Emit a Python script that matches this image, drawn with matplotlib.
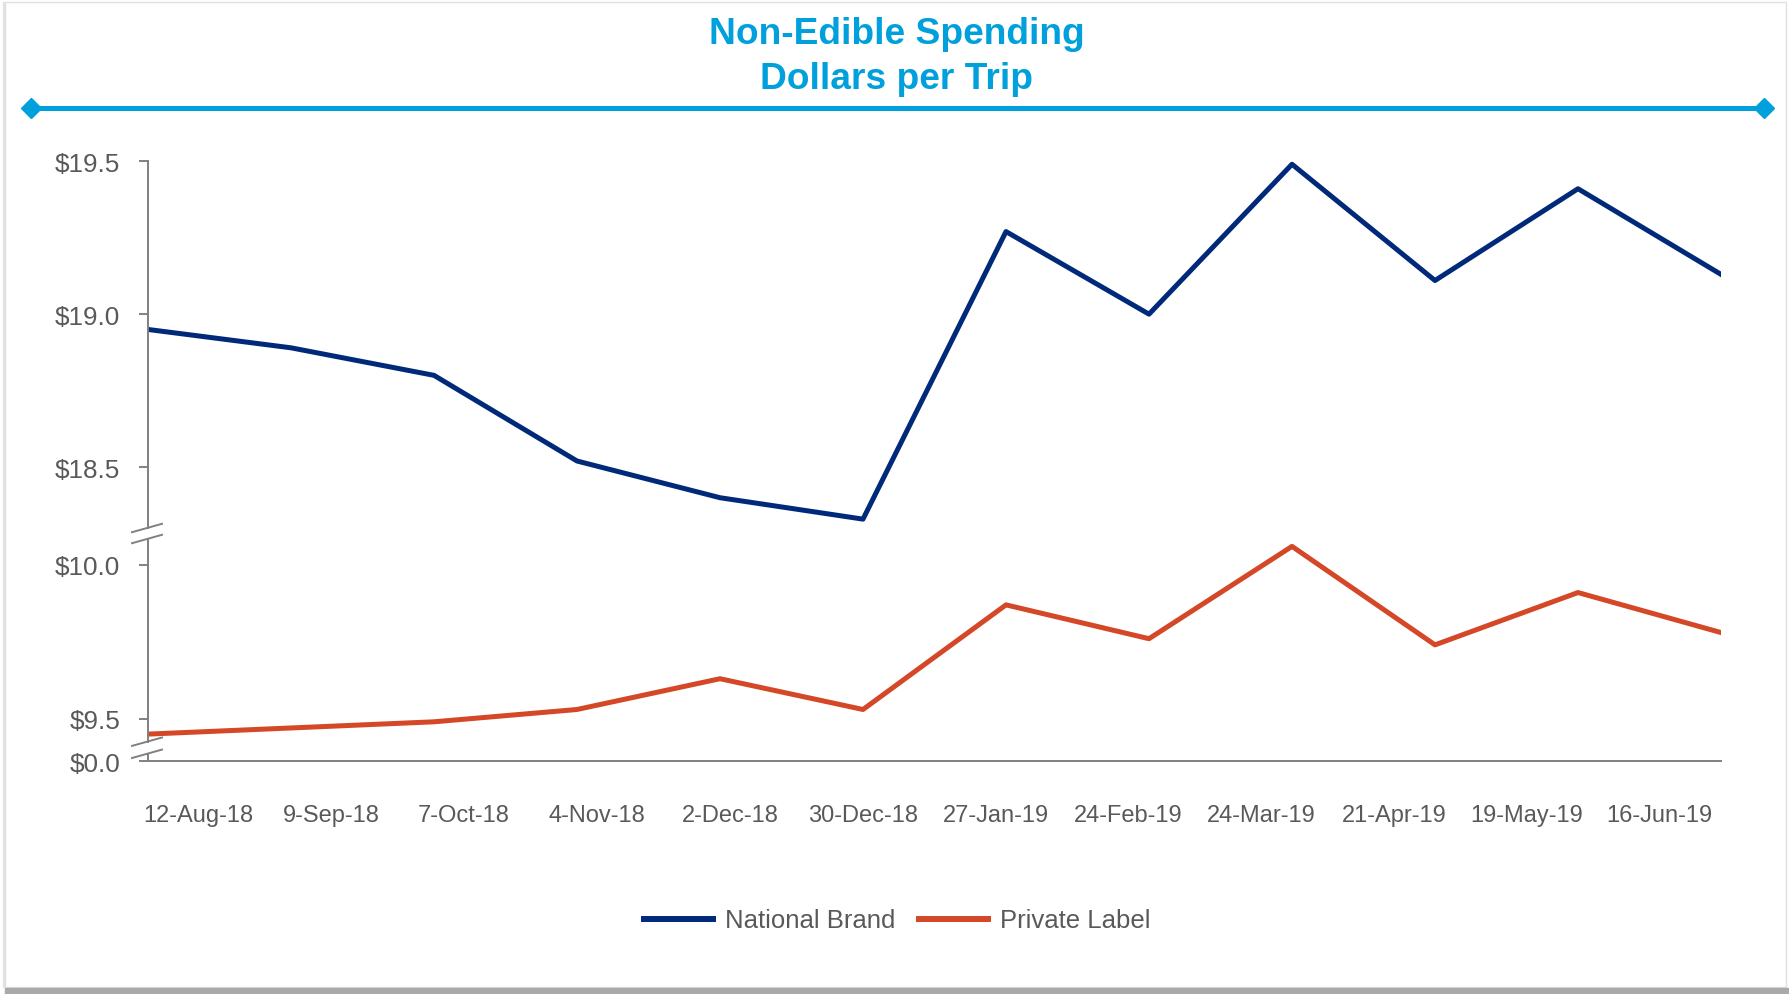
import matplotlib
matplotlib.use('Agg')
import matplotlib.pyplot as plt
from matplotlib.lines import Line2D
from matplotlib.patches import Rectangle
import numpy as np

plt.rcParams['font.family'] = ['Liberation Sans', 'DejaVu Sans']

weeks = ['12-Aug-18', '9-Sep-18', '7-Oct-18', '4-Nov-18', '2-Dec-18', '30-Dec-18',
         '27-Jan-19', '24-Feb-19', '24-Mar-19', '21-Apr-19', '19-May-19', '16-Jun-19']
national_brand = [18.95, 18.89, 18.80, 18.52, 18.40, 18.33,
                  19.27, 19.00, 19.49, 19.11, 19.41, 19.13]
private_label = [9.45, 9.47, 9.49, 9.53, 9.63, 9.53,
                 9.87, 9.76, 10.06, 9.74, 9.91, 9.78]

W, H = 1789, 995
GRAY = '#595959'
AXIS = '#808080'
BLUE = '#00A0DC'
NAVY = '#00297A'
RED = '#D44727'

fig = plt.figure(figsize=(W / 100, H / 100), dpi=100)
fig.patch.set_facecolor('white')


def fx(px):
    return px / W


def fy(py):
    return 1 - py / H


def box(x0, y0, x1, y1):
    return [fx(x0), fy(y1), fx(x1) - fx(x0), fy(y0) - fy(y1)]


# card outline with a soft shadow on the left and bottom
fig.patches.append(Rectangle((fx(3), fy(988)), fx(5) - fx(3), fy(3) - fy(988),
                             transform=fig.transFigure, color='#e3e3e3', zorder=-5))
fig.patches.append(Rectangle((fx(5), fy(988)), fx(1786) - fx(5), fy(3) - fy(988),
                             transform=fig.transFigure, facecolor='white',
                             edgecolor='#e0e0e0', lw=1, zorder=-5))
fig.patches.append(Rectangle((fx(5), fy(995)), fx(1789) - fx(5), fy(988.5) - fy(995),
                             transform=fig.transFigure, color='#a9a9a9', zorder=-5))

# title and rule
fig.text(fx(897), fy(34.5), 'Non-Edible Spending', ha='center', va='center',
         fontsize=26.7, fontweight='bold', color=BLUE)
fig.text(fx(897), fy(79.5), 'Dollars per Trip', ha='center', va='center',
         fontsize=26.7, fontweight='bold', color=BLUE)
fig.add_artist(Line2D([fx(31), fx(1764)], [fy(109), fy(109)], color=BLUE, lw=3.6,
                      marker='D', ms=10, markevery=[0, 1], transform=fig.transFigure))

# three stacked panels make up the broken y axis
left, right = 148, 1721
ax_top = fig.add_axes(box(left, 162.2, right, 529))
ax_mid = fig.add_axes(box(left, 540, right, 742.5))
ax_bot = fig.add_axes(box(left, 754.5, right, 762.2))

x = np.arange(len(weeks))
ax_top.plot(x, national_brand, color=NAVY, lw=3.6, label='National Brand')
ax_mid.plot(x, private_label, color=RED, lw=3.6, label='Private Label')

ax_top.set_ylim(18.301, 19.5)
ax_mid.set_ylim(9.426, 10.084)
ax_bot.set_ylim(0, 0.025)
ax_top.set_yticks([18.5, 19.0, 19.5])
ax_mid.set_yticks([9.5, 10.0])
ax_bot.set_yticks([0.0])

for ax in (ax_top, ax_mid, ax_bot):
    ax.set_xlim(0, len(weeks) - 1)
    ax.patch.set_alpha(0)
    for s in ('top', 'right', 'bottom'):
        ax.spines[s].set_visible(False)
    ax.spines['left'].set_color(AXIS)
    ax.spines['left'].set_linewidth(1.4)
    ax.yaxis.set_major_formatter(lambda v, pos: f'${v:.1f}')
    ax.tick_params(axis='y', direction='out', length=6.5, width=1.4, color=AXIS,
                   pad=13.5, labelsize=18.8, labelcolor=GRAY)
    ax.set_xticks([])

ax_bot.spines['bottom'].set_visible(True)
ax_bot.spines['bottom'].set_color(AXIS)
ax_bot.spines['bottom'].set_linewidth(1.4)
# date labels sit on their own spacing along the axis
label_pos = 0.353 + np.arange(len(weeks)) * 0.929
ax_bot.set_xticks(label_pos)
ax_bot.set_xticklabels(weeks)
ax_bot.tick_params(axis='x', length=0, pad=30.5, labelsize=17, labelcolor=GRAY)

# axis break marks
for yc in (529, 540, 742.7, 754.8):
    fig.add_artist(Line2D([fx(132), fx(162)], [fy(yc + 4.2), fy(yc - 4.2)],
                          color=AXIS, lw=1.4, transform=fig.transFigure))

handles = [Line2D([], [], color=NAVY, lw=4.3), Line2D([], [], color=RED, lw=4.3)]
fig.legend(handles, ['National Brand', 'Private Label'], loc='center',
           bbox_to_anchor=(fx(897), fy(921.5)), ncol=2, frameon=False,
           fontsize=18.5, labelcolor=GRAY, handlelength=2.69, handletextpad=0.47,
           columnspacing=0.92)

fig.savefig('out.png', dpi=100, facecolor='white')
